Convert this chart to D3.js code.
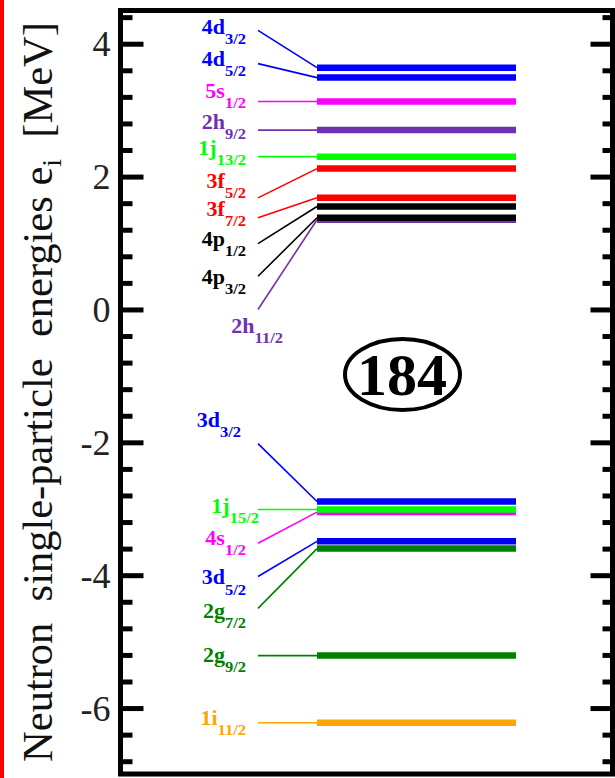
<!DOCTYPE html>
<html>
<head>
<meta charset="utf-8">
<script src="https://cdn.jsdelivr.net/npm/d3@7/dist/d3.min.js"></script>
<style>
body { margin: 0; background: #fff; }
svg { display: block; }
</style>
</head>
<body>
<svg id="chart" width="615" height="778"></svg>
<script>
// orbitals, listed in drawing order (lower ones first so the overlaps look right)
var orbitMain  = ["4d","4d","5s","2h","1j","3f","3f","4p","2h","4p","3d","4s","1j","3d","2g","2g","1i"];
var orbitSub   = ["3/2","5/2","1/2","9/2","13/2","5/2","7/2","1/2","11/2","3/2","3/2","1/2","15/2","5/2","7/2","9/2","11/2"];
var orbitColor = ["#0000ff","#0000ff","#ff00ff","#7030b0","#00ff00","#ff0000","#ff0000","#000000","#7030b0","#000000",
                  "#0000ff","#ff00ff","#00ff00","#0000ff","#008000","#008000","#ffa500"];
// energy (MeV) at the left end of the thin line, and of the thick level on the right
var energyLeft  = [4.20, 3.70, 3.13, 2.70, 2.30, 1.68, 1.38, 0.99, 0.00, 0.50,
                   -2.02, -3.52, -3.01, -4.02, -4.50, -5.21, -6.22];
var energyRight = [3.64, 3.49, 3.13, 2.70, 2.30, 2.12, 1.68, 1.55, 1.35, 1.38,
                   -2.89, -3.05, -3.01, -3.49, -3.60, -5.21, -6.22];
// where each label sits (MeV, baseline of the main text)
var labelEnergy = [4.15, 3.67, 3.19, 2.72, 2.33, 1.83, 1.40, 0.96, -0.36, 0.39,
                   -1.77, -3.55, -3.07, -4.14, -4.65, -5.31, -6.26];
var majorTicks = [-6, -4, -2, 0, 2, 4];
var shellGap = "184";

var serif = "'Liberation Serif', 'Times New Roman', Times, serif";

var svg = d3.select("#chart");

var frame = {left: 120.5, top: 10.5, right: 612.5, bottom: 774.5};
var y = d3.scaleLinear().domain([-7, 4.5]).range([frame.bottom, frame.top]);

var minorTicks = d3.range(-68, 45, 4).filter(function(d){ return d % 20 !== 0; }).map(function(d){ return d/10; });

// red strip at the very left
svg.append("rect").attr("x",0).attr("y",0).attr("width",4).attr("height",778).attr("fill","#ff0000");

// axes (left + right, ticks pointing inwards)
function styleAxis(g) {
	g.attr("font-family", serif);
	g.select(".domain").remove();
	g.selectAll(".tick line").attr("stroke","#000").attr("stroke-width",5);
}

svg.append("g")
	.attr("transform","translate(" + frame.left + ",0)")
	.call(d3.axisLeft(y).tickValues(minorTicks).tickSize(-12).tickFormat(""))
	.call(styleAxis);

svg.append("g")
	.attr("transform","translate(" + frame.left + ",0)")
	.call(d3.axisLeft(y).tickValues(majorTicks).tickSize(-23).tickPadding(10)
		.tickFormat(function(d){ return String(d); }))
	.call(styleAxis)
	.call(function(g){
		g.attr("font-size", 36);
		g.selectAll(".tick text")
			.attr("dy","0.34em")
			.attr("fill","#222");
	});

svg.append("g")
	.attr("transform","translate(" + frame.right + ",0)")
	.call(d3.axisRight(y).tickValues(minorTicks).tickSize(-10).tickFormat(""))
	.call(styleAxis);

svg.append("g")
	.attr("transform","translate(" + frame.right + ",0)")
	.call(d3.axisRight(y).tickValues(majorTicks).tickSize(-22).tickFormat(""))
	.call(styleAxis);

svg.append("rect")
	.attr("x",frame.left).attr("y",frame.top)
	.attr("width",frame.right - frame.left).attr("height",frame.bottom - 0.5 - frame.top)
	.attr("fill","none").attr("stroke","#000").attr("stroke-width",5);

// y title
var title = svg.append("text")
	.attr("transform","translate(52,392) rotate(-90)")
	.attr("text-anchor","middle")
	.attr("fill","#111")
	.attr("font-family", serif)
	.attr("font-size", 42.5)
	.style("white-space","pre");
title.append("tspan").text("Neutron  single-particle  energies e");
title.append("tspan").attr("dy",9).attr("font-size",28).text("i");
title.append("tspan").attr("dy",-9).text("  [MeV]");

// levels
var lineX0 = 258, barX0 = 317, barX1 = 516;
var levels = d3.range(orbitMain.length);

svg.append("g").attr("class","levels")
	.selectAll("g")
	.data(levels)
	.enter().append("g")
	.each(function(i){
		var g = d3.select(this);
		g.append("line")
			.attr("x1",lineX0).attr("y1",y(energyLeft[i]))
			.attr("x2",barX0).attr("y2",y(energyRight[i]))
			.attr("stroke",orbitColor[i]).attr("stroke-width",1.6);
		g.append("line")
			.attr("x1",barX0).attr("y1",y(energyRight[i]))
			.attr("x2",barX1).attr("y2",y(energyRight[i]))
			.attr("stroke",orbitColor[i]).attr("stroke-width",6.5);
	});

// labels, right-aligned next to the thin lines
var labelEnd = {"2h11/2": 283, "1j15/2": 259, "3d3/2": 241};

svg.append("g").attr("class","labels")
	.selectAll("g")
	.data(levels)
	.enter().append("g")
	.attr("transform",function(i){
		var xe = labelEnd[orbitMain[i] + orbitSub[i]] || 246;
		return "translate(" + xe + "," + y(labelEnergy[i]) + ") scale(1.1,1)";
	})
	.append("text")
	.attr("text-anchor","end")
	.attr("fill",function(i){ return orbitColor[i]; })
	.attr("font-family", serif)
	.attr("font-weight","bold")
	.attr("font-size",20)
	.each(function(i){
		var t = d3.select(this);
		t.append("tspan").text(orbitMain[i]);
		t.append("tspan").attr("dy",10).attr("font-size",15).text(orbitSub[i]);
	});

// magic number badge
svg.append("ellipse")
	.attr("cx",402.5).attr("cy",374.5).attr("rx",57.5).attr("ry",35.5)
	.attr("fill","none").attr("stroke","#000").attr("stroke-width",4);
svg.append("text")
	.attr("x",402).attr("y",395)
	.attr("text-anchor","middle")
	.attr("font-family", serif)
	.attr("font-weight","bold")
	.attr("font-size",60)
	.text(shellGap);
</script>
</body>
</html>
